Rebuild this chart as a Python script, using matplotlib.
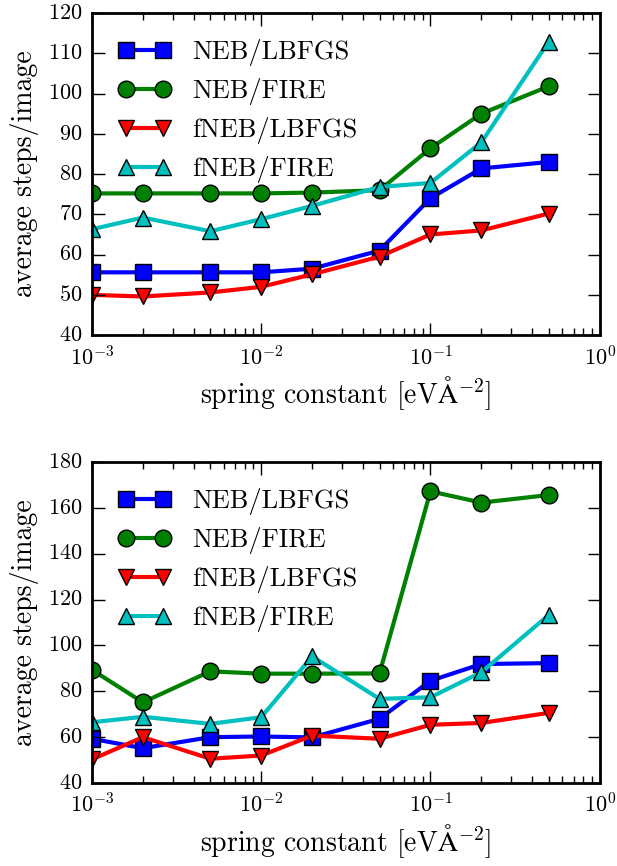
import matplotlib
matplotlib.use("Agg")
import matplotlib.pyplot as plt

plt.style.use('classic')
plt.rcParams['font.family'] = ['cmr10', 'DejaVu Serif']
plt.rcParams['mathtext.fontset'] = 'cm'
plt.rcParams['axes.formatter.use_mathtext'] = True
plt.rcParams['figure.facecolor'] = 'white'
plt.rcParams['savefig.facecolor'] = 'white'

k = [1e-3, 2e-3, 5e-3, 1e-2, 2e-2, 5e-2, 1e-1, 2e-1, 5e-1]

labels = ['NEB/LBFGS', 'NEB/FIRE', 'fNEB/LBFGS', 'fNEB/FIRE']
styles = ['b-s', 'g-o', 'r-v', 'c-^']

top_neb_lbfgs = [55.6, 55.6, 55.6, 55.6, 56.5, 61.0, 74.0, 81.4, 83.0]
top_neb_fire = [75.2, 75.2, 75.2, 75.2, 75.4, 76.0, 86.4, 95.0, 101.8]
top_fneb_lbfgs = [50.0, 49.6, 50.6, 52.0, 55.1, 59.5, 65.0, 66.0, 70.2]
top_fneb_fire = [66.3, 69.2, 65.8, 68.8, 72.1, 76.8, 77.8, 87.9, 112.9]

bot_neb_lbfgs = [59.3, 55.2, 60.0, 60.3, 59.9, 68.0, 84.6, 91.9, 92.3]
bot_neb_fire = [89.4, 75.2, 88.7, 87.7, 87.7, 87.8, 167.2, 162.3, 165.6]
bot_fneb_lbfgs = [50.3, 60.0, 50.6, 52.0, 60.7, 59.3, 65.4, 66.2, 70.6]
bot_fneb_fire = [66.5, 68.9, 65.8, 68.7, 95.2, 76.7, 77.4, 88.3, 113.3]

top_series = [top_neb_lbfgs, top_neb_fire, top_fneb_lbfgs, top_fneb_fire]
bot_series = [bot_neb_lbfgs, bot_neb_fire, bot_fneb_lbfgs, bot_fneb_fire]

fig = plt.figure(figsize=(6.17, 8.66), dpi=100)
ax1 = fig.add_axes([0.149, 0.613, 0.823, 0.372])
ax2 = fig.add_axes([0.149, 0.0958, 0.823, 0.3707])

for ax, series, ylim in [(ax1, top_series, (40, 120)), (ax2, bot_series, (40, 180))]:
    for s, st, lab in zip(series, styles, labels):
        ax.plot(k, s, st, lw=3, ms=12, mec='k', mew=1, label=lab)
    ax.set_xscale('log')
    ax.set_xlim(1e-3, 1)
    ax.set_ylim(*ylim)
    ax.set_xlabel(r'spring constant [eV$\mathrm{\AA}^{-2}$]', fontsize=20, labelpad=4)
    ax.set_ylabel('average steps/image', fontsize=20, labelpad=6)
    ax.tick_params(labelsize=16, width=1, length=9, which='major', pad=7)
    ax.tick_params(which='minor', length=5, width=1)
    for sp in ax.spines.values():
        sp.set_linewidth(2)
    ax.legend(loc='upper left', frameon=False, numpoints=2, fontsize=19,
              handlelength=2.0, handletextpad=0.8, labelspacing=0.45,
              borderaxespad=0.6)

fig.savefig('out.png', dpi=100)
